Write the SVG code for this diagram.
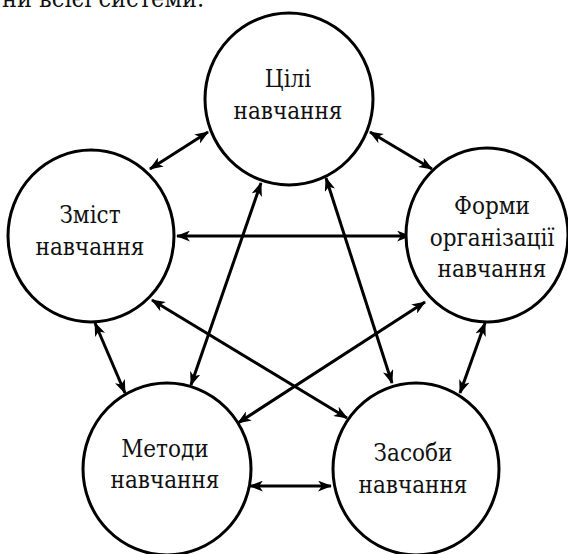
<svg xmlns="http://www.w3.org/2000/svg" width="568" height="554" viewBox="0 0 568 554">
<style>
.node ellipse{fill:#fff;stroke:#000;stroke-width:3}
text{font-size:24px;fill:#111;text-anchor:middle;font-stretch:condensed}
.conn line{stroke:#000;stroke-width:3;marker-start:url(#ah);marker-end:url(#ah)}
</style>
<defs>
<marker id="ah" viewBox="0 0 13 10" refX="12" refY="5" markerWidth="14" markerHeight="11" markerUnits="userSpaceOnUse" orient="auto-start-reverse">
<path d="M0,0 L13,5 L0,10 L3.5,5 Z" fill="#000"/>
</marker>
</defs>
<rect width="568" height="554" fill="#fff"/>
<g font-family="'DejaVu Serif Condensed', 'DejaVu Serif', 'Liberation Serif', serif">
<text x="2" y="7" style="text-anchor:start;font-size:25px">ни всієї системи.</text>
<g class="conn" id="connectors">
<line x1="150" y1="169" x2="208" y2="132"/>
<line x1="370" y1="132" x2="432" y2="169"/>
<line x1="177" y1="236" x2="410" y2="236"/>
<line x1="191" y1="385" x2="261" y2="183"/>
<line x1="326" y1="178" x2="392" y2="383"/>
<line x1="152" y1="300" x2="347" y2="418"/>
<line x1="425" y1="302" x2="238" y2="423"/>
<line x1="95" y1="323" x2="125" y2="393"/>
<line x1="485" y1="323" x2="460" y2="393"/>
<line x1="250" y1="486" x2="331" y2="486"/>
</g>
<g class="node" id="tsili">
<ellipse cx="289" cy="99" rx="84" ry="86"/>
<text x="288" y="87">Цілі</text>
<text x="288" y="119">навчання</text>
</g>
<g class="node" id="zmist">
<ellipse cx="91" cy="236" rx="83" ry="86"/>
<text x="90" y="223">Зміст</text>
<text x="90" y="255">навчання</text>
</g>
<g class="node" id="formy">
<ellipse cx="487" cy="235" rx="81" ry="87"/>
<text x="492" y="214">Форми</text>
<text x="492" y="246">організації</text>
<text x="492" y="277">навчання</text>
</g>
<g class="node" id="metody">
<ellipse cx="167" cy="469" rx="84" ry="86"/>
<text x="165" y="457">Методи</text>
<text x="165" y="488">навчання</text>
</g>
<g class="node" id="zasoby">
<ellipse cx="416" cy="469" rx="83" ry="86"/>
<text x="413" y="461">Засоби</text>
<text x="413" y="493">навчання</text>
</g>
</g>
</svg>
